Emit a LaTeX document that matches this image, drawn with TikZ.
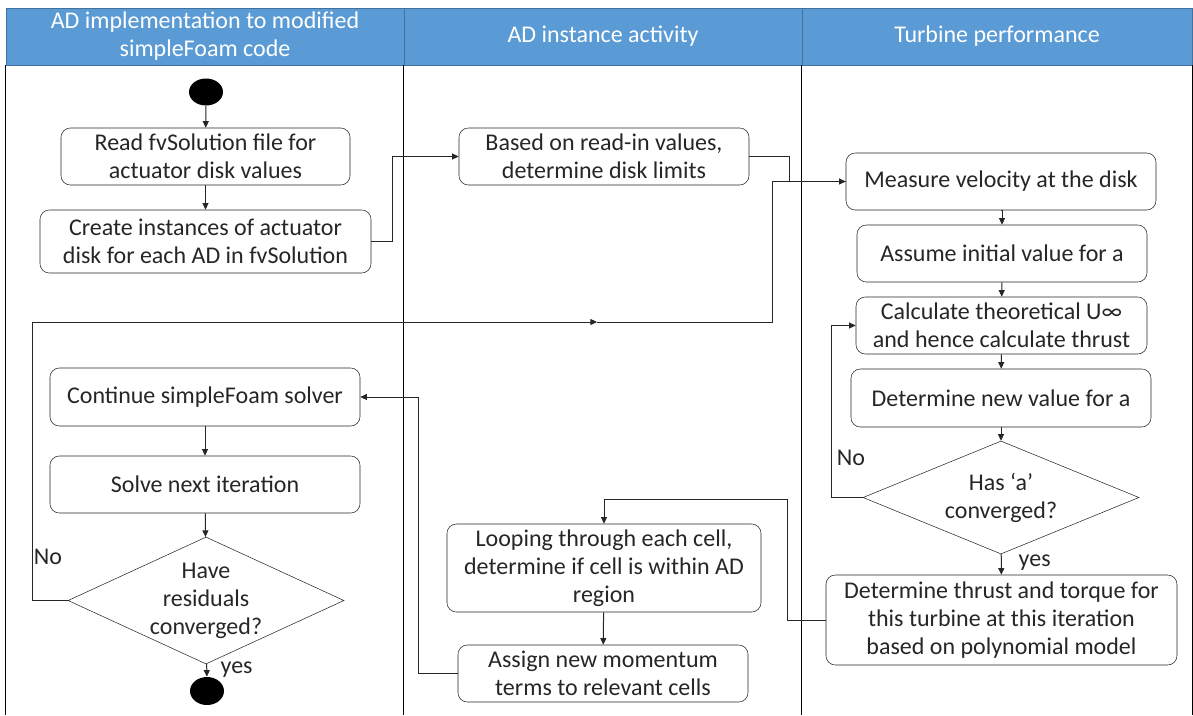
\documentclass[tikz,border=0pt]{standalone}
\usepackage{fontspec}
\setmainfont{Carlito}
\usetikzlibrary{arrows.meta,shapes.geometric}
\definecolor{ink}{HTML}{262626}
\definecolor{lane}{HTML}{5B9BD5}
\definecolor{laneedge}{HTML}{41719C}
\def\pxu{0.75pt}

\begin{document}
\begin{tikzpicture}[x=0.75pt,y=-0.75pt,font=\fontsize{18}{21}\selectfont,text=ink,
  >={Triangle[length=5pt,width=4.5pt]},
  box/.style 2 args={draw=ink,rounded corners=7pt,align=center,inner sep=0pt,
    minimum width=#1*\pxu,minimum height=#2*\pxu},
  dec/.style 2 args={draw=ink,diamond,inner sep=0pt,minimum width=#1*\pxu,minimum height=#2*\pxu},
  dot/.style={ellipse,fill=black,inner sep=0pt,minimum width=34*\pxu,minimum height=27*\pxu},
  flow/.style={->,ink,line width=0.75pt},
  head/.style={fill=lane,draw=laneedge,text=white,align=center,inner sep=0pt,minimum height=57*\pxu}]
  \useasboundingbox (0,0) rectangle (1193,715);
  % lanes
  \node[head,minimum width=398*\pxu] (hd1) at (205,36.5) {AD implementation to modified\\simpleFoam code};
  \node[head,minimum width=398*\pxu] (hd2) at (603,36.5) {AD instance activity};
  \node[head,minimum width=390*\pxu] (hd3) at (997,36.5) {Turbine performance};
  \foreach \h in {hd1,hd2,hd3}
    \draw[black,line width=0.75pt] (\h.south west) -- (\h.south west |- 0,715);
  \draw[black,line width=0.75pt] (hd3.south east) -- (hd3.south east |- 0,715);

  % left lane
  \node[dot] (start) at (206,92) {};
  \node[box={289}{57}] (read) at (205.5,156.5) {Read fvSolution file for\\actuator disk values};
  \node[box={331}{63}] (create) at (205.5,241.5) {Create instances of actuator\\disk for each AD in fvSolution};
  \node[box={310}{58}] (cont) at (205,397) {Continue simpleFoam solver};
  \node[box={310}{57}] (solve) at (205,484.5) {Solve next iteration};
  \node[dec={276}{127},label={[align=center]center:Have\\residuals\\converged?}] (res) at (206,600.5) {};
  \node[dot,minimum height=28*\pxu] (stop) at (207,691) {};
  \node (resno) at (48,557) {No};
  \node[anchor=west] (resyes) at (216,670) {yes};

  % middle lane
  \node[box={290}{57}] (based) at (604,156.5) {Based on read-in values,\\determine disk limits};
  \node[box={314}{88}] (loop) at (604,568) {Looping through each cell,\\determine if cell is within AD\\region};
  \node[box={290}{57}] (assign) at (603,673.5) {Assign new momentum\\terms to relevant cells};

  % right lane
  \node[box={310}{57}] (measure) at (1001,181.5) {Measure velocity at the disk};
  \node[box={290}{57}] (assume) at (1002,253.5) {Assume initial value for a};
  \node[box={291}{57}] (calc) at (1001.5,325.5) {Calculate theoretical U∞\\and hence calculate thrust};
  \node[box={300}{58}] (newa) at (1001,398) {Determine new value for a};
  \node[dec={276}{113},label={[align=center]center:Has ‘a’\\converged?}] (hasa) at (1001,497.5) {};
  \node[box={351}{90}] (thrust) at (1001.5,620) {Determine thrust and torque for\\this turbine at this iteration\\based on polynomial model};
  \node (ano) at (851,458) {No};
  \node[anchor=west] (ayes) at (1014,563) {yes};

  % connectors
  \draw[flow] (start) -- (read);
  \draw[flow] (read) -- (create);
  \draw[flow] (create.east) -- ++(21,0) |- (based.west);
  \draw[flow] (based.east) -- ++(40,0) |- (measure.west);
  \draw[flow] (measure.south) -- (measure.south -| assume.north) -- (assume.north);
  \draw[flow] (assume) -- (calc);
  \draw[flow] (calc) -- (newa);
  \draw[flow] (newa) -- (hasa);
  \draw[flow] (hasa.west) -- ++(-31,0) |- (calc.west);
  \draw[flow] (hasa) -- (thrust);
  \draw[flow] (thrust.west) -| (787,499) -| (loop.north);
  \draw[flow] (loop) -- (assign);
  \draw[flow] (assign.west) -- ++(-39,0) |- (cont.east);
  \draw[flow] (cont) -- (solve);
  \draw[flow] (solve) -- (res);
  \draw[flow] (res) -- (stop);
  \coordinate (lpA) at (32,322);
  \coordinate (lpM) at (597,322);
  \coordinate (lpB) at (772,322);
  \draw[flow] (res.west) -| (lpA) -- (lpM);
  \draw[ink,line width=0.75pt] (lpM) -- (lpB) |- (measure.west);
\end{tikzpicture}
\end{document}
